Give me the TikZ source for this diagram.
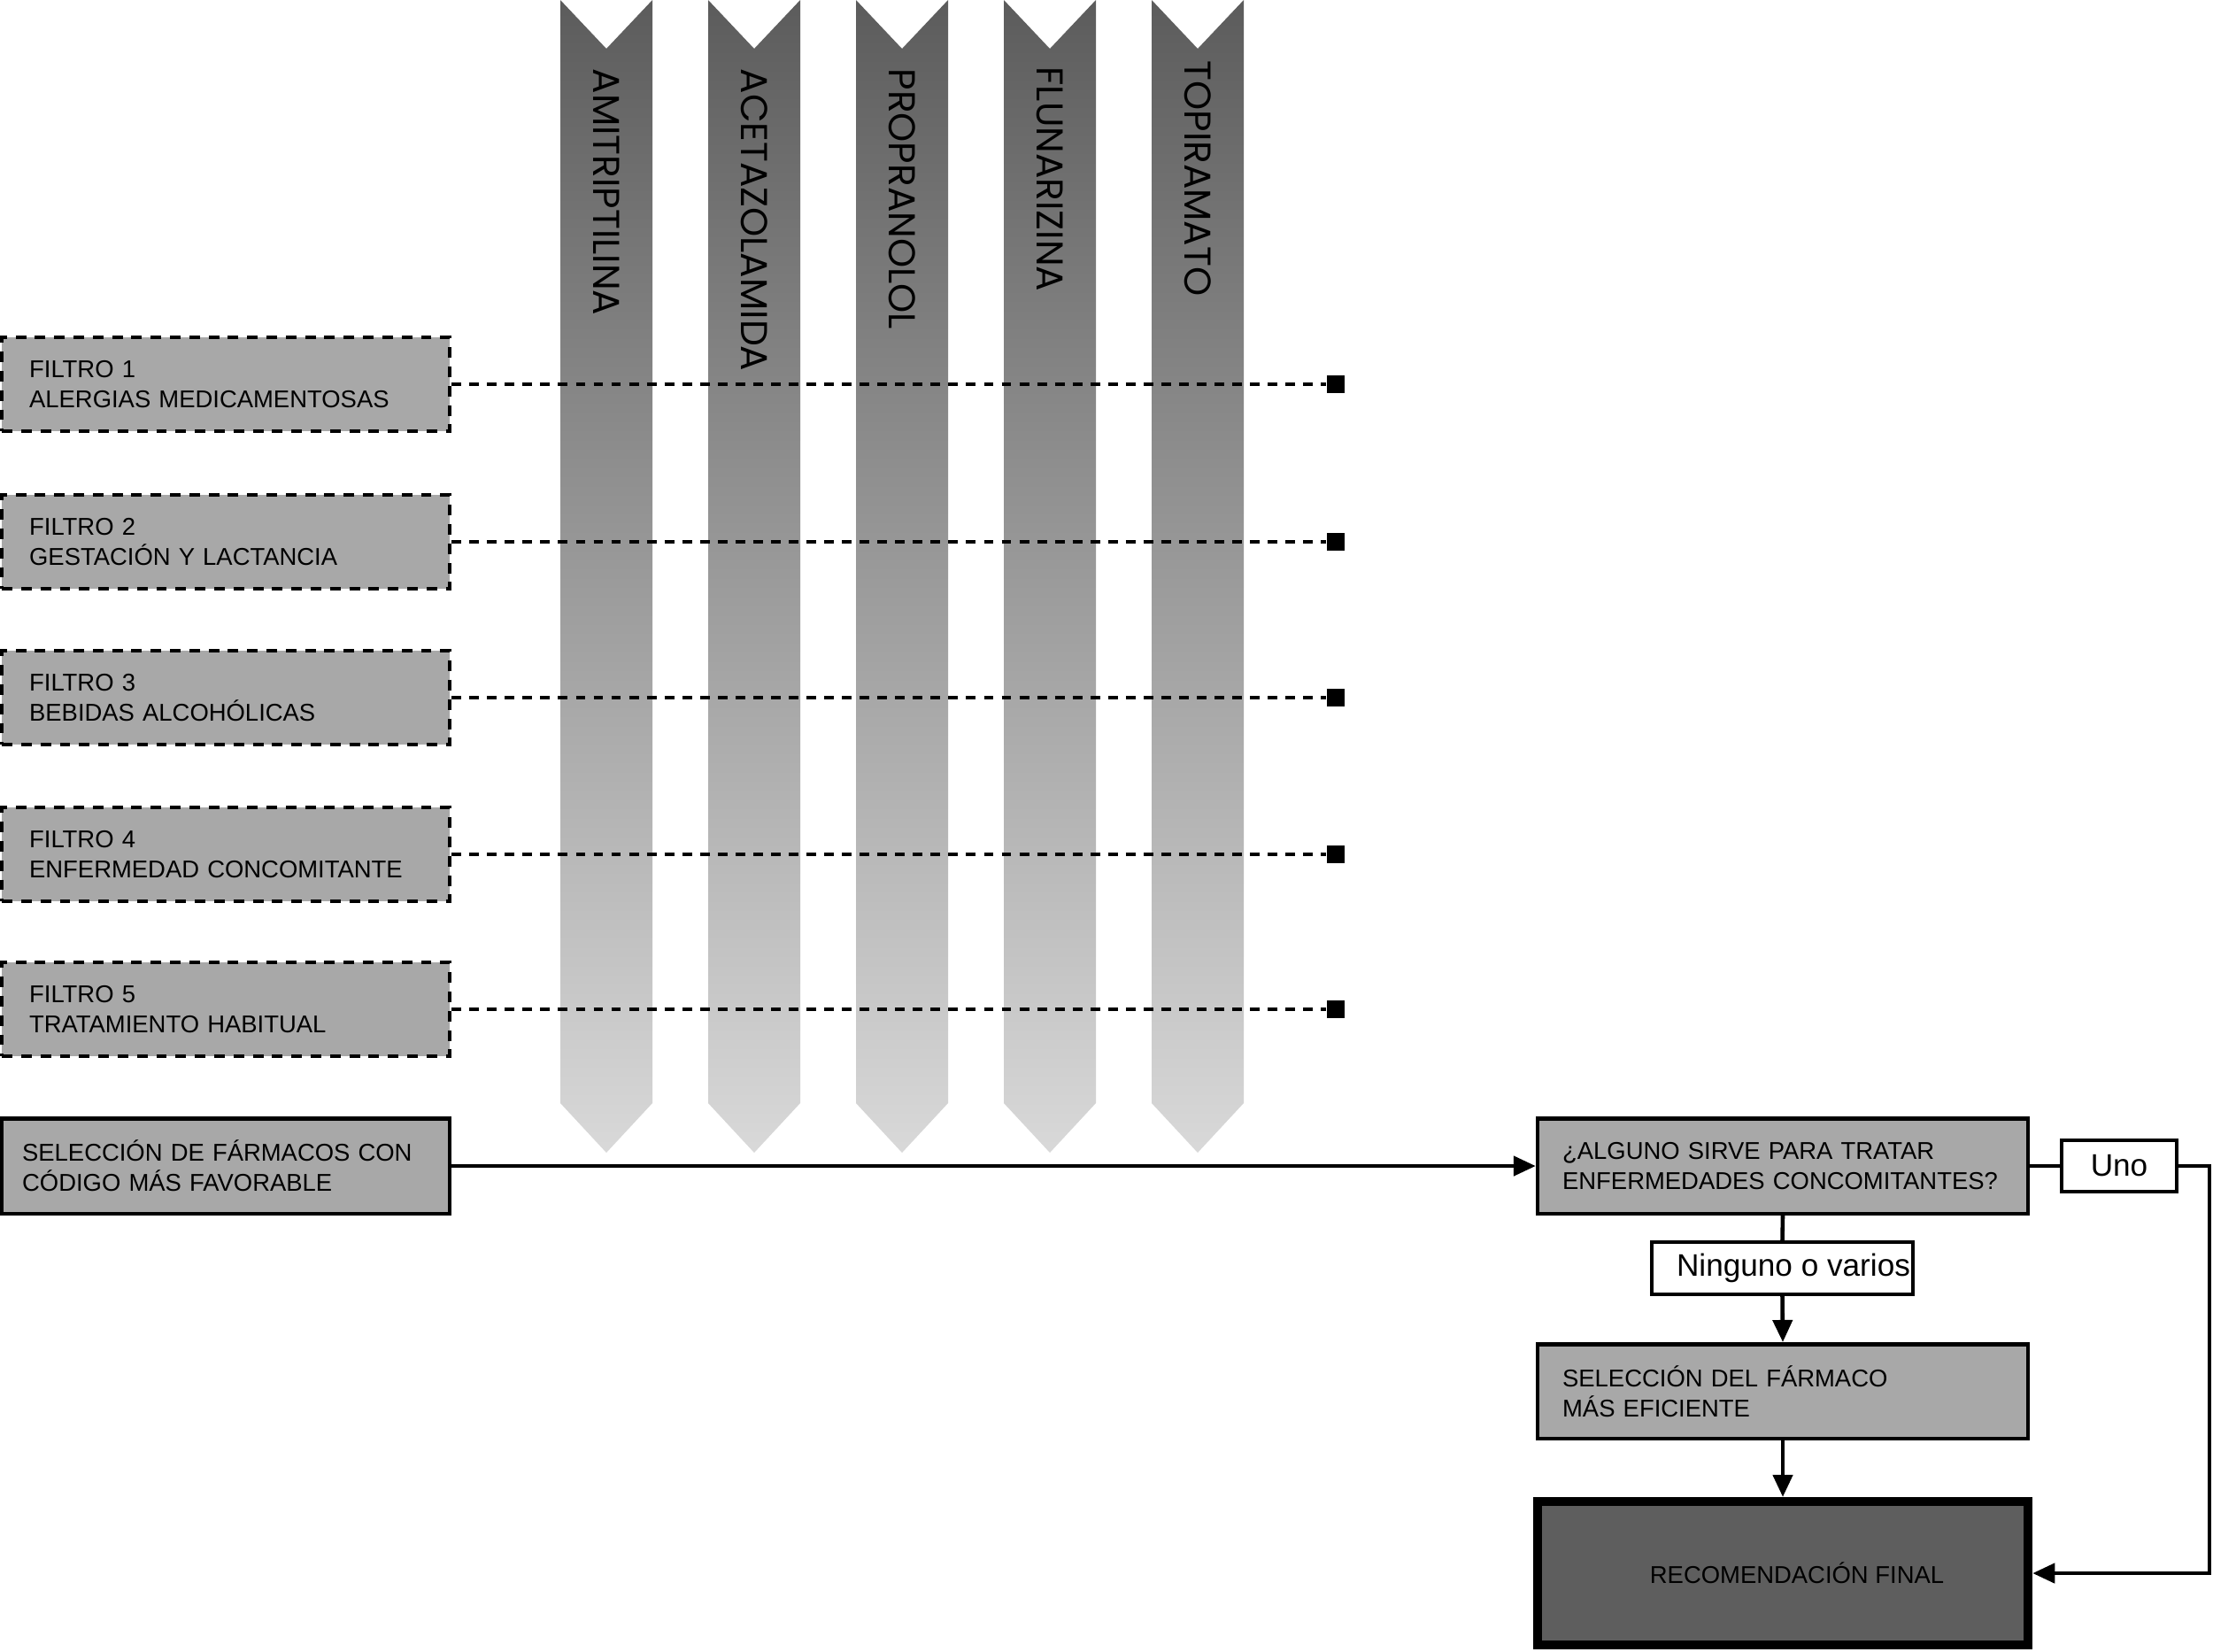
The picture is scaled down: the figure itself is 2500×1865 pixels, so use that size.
\documentclass[tikz,border=0pt]{standalone}
\usepackage{fontspec}
\setmainfont{Liberation Sans}
\newfontfamily\drugfont{Poppins}
\usetikzlibrary{arrows.meta}
\definecolor{boxgray}{gray}{0.66}
\definecolor{finalgray}{gray}{0.37}
\definecolor{striptop}{gray}{0.36}
\definecolor{stripbot}{gray}{0.85}
\begin{document}
\begin{tikzpicture}[x=0.01cm,y=-0.01cm,
  txt/.style={font=\fontsize{7.8}{9.7}\selectfont},
  filterbox/.style={txt, draw=black, line width=1.3pt, dash pattern=on 3.4pt off 2.8pt,
    fill=boxgray, minimum width=5.055cm, minimum height=1.06cm, inner xsep=0.31cm,
    inner ysep=0pt, text width=4.435cm, align=left},
  procbox/.style={txt, draw=black, line width=1.3pt, fill=boxgray, inner ysep=0pt, align=left},
  finalbox/.style={txt, draw=black, line width=2.9pt, fill=finalgray, minimum width=5.54cm,
    minimum height=1.62cm, inner sep=0pt},
  tagbox/.style={draw=black, line width=1.2pt, fill=white, inner sep=0pt,
    font=\fontsize{10}{12}\selectfont},
  dotline/.style={line width=1.3pt, dash pattern=on 3.1pt off 2.6pt},
  endsq/.style={fill=black, minimum size=0.2cm, inner sep=0pt},
  conn/.style={line width=1.3pt},
  arr/.style={conn, -{Triangle[length=0.25cm,width=0.22cm]}},
  druglabel/.style={rotate=-90, anchor=west, inner sep=0pt, font=\drugfont\fontsize{12}{14}\selectfont}
]
\useasboundingbox (0,0) rectangle (2500,1865);

% drug strips
\foreach \x/\lbl/\ty [count=\i] in {633/AMITRIPTILINA/77, 800/ACETAZOLAMIDA/77, 967/PROPRANOLOL/77, 1134/FLUNARIZINA/75, 1301/TOPIRAMATO/68}{
  \shade[top color=striptop, bottom color=stripbot]
    (\x,0) -- (\x+52,55) -- (\x+104,0) -- (\x+104,1246) -- (\x+52,1302) -- (\x,1246) -- cycle;
  \node[druglabel] (drug\i) at (\x+52,\ty) {\lbl};
}

% filters
\node[filterbox] (f1) at (255,434) {FILTRO 1\\ALERGIAS MEDICAMENTOSAS};
\node[filterbox] (f2) at (255,612) {FILTRO 2\\GESTACIÓN Y LACTANCIA};
\node[filterbox] (f3) at (255,788) {FILTRO 3\\BEBIDAS ALCOHÓLICAS};
\node[filterbox] (f4) at (255,965) {FILTRO 4\\ENFERMEDAD CONCOMITANTE};
\node[filterbox] (f5) at (255,1140) {FILTRO 5\\TRATAMIENTO HABITUAL};

\node[endsq] (e1) at (1509,434) {};
\node[endsq] (e2) at (1509,612) {};
\node[endsq] (e3) at (1509,788) {};
\node[endsq] (e4) at (1509,965) {};
\node[endsq] (e5) at (1509,1140) {};

\foreach \i in {1,...,5}{
  \draw[dotline] (f\i.east) -- (e\i.west);
}

% process boxes
\node[procbox, minimum width=5.055cm, minimum height=1.075cm, inner xsep=0.23cm, text width=4.595cm]
  (sel) at (255,1317) {SELECCIÓN DE FÁRMACOS CON\\CÓDIGO MÁS FAVORABLE};
\node[procbox, minimum width=5.535cm, minimum height=1.075cm, inner xsep=0.28cm, text width=4.975cm]
  (q) at (2014,1317) {¿ALGUNO SIRVE PARA TRATAR\\ENFERMEDADES CONCOMITANTES?};
\node[tagbox, minimum width=1.3cm, minimum height=0.58cm] (uno) at (2394,1317) {Uno};
\node[tagbox, minimum width=2.95cm, minimum height=0.59cm] (ning) at (2013.5,1432.5) {\hspace*{0.25cm}Ninguno o varios};
\node[procbox, minimum width=5.535cm, minimum height=1.065cm, inner xsep=0.28cm, text width=4.975cm]
  (eff) at (2014,1571.5) {SELECCIÓN DEL FÁRMACO\\MÁS EFICIENTE};
\node[finalbox] (fin) at (2014,1777) {\hspace*{0.32cm}RECOMENDACIÓN FINAL};

\coordinate (rc) at (2496,1317);

\draw[arr] (sel.east) -- (q.west);
\draw[conn] (q.east) -- (uno.west);
\draw[arr] (uno.east) -- (rc) |- (fin.east);
\draw[conn] (q.south) -- (ning.north);
\draw[arr] (ning.south) -- (eff.north);
\draw[arr] (eff.south) -- (fin.north);
\end{tikzpicture}
\end{document}
